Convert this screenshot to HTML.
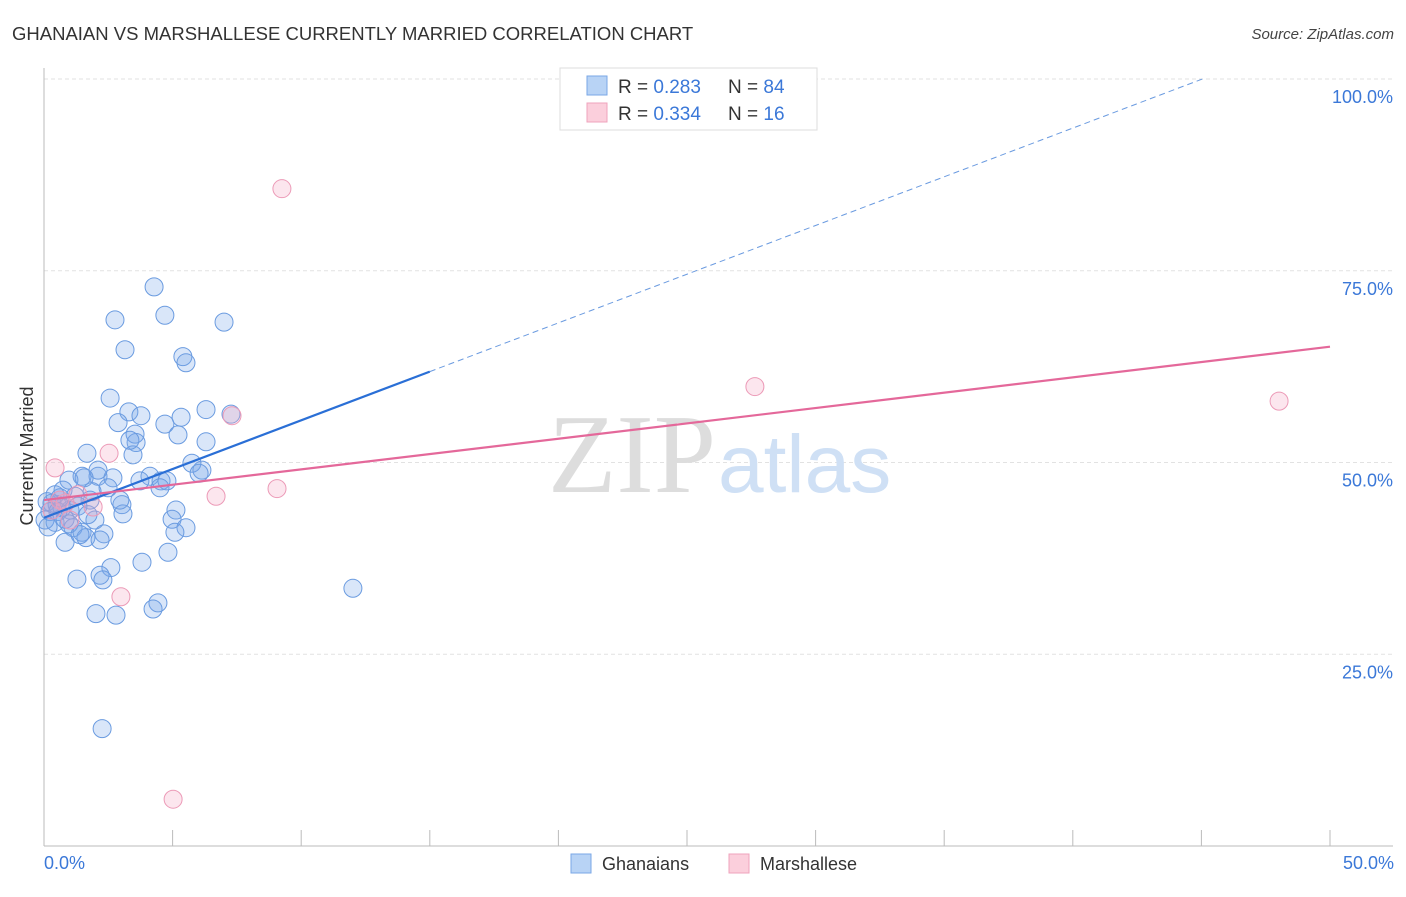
<!DOCTYPE html>
<html><head><meta charset="utf-8"><style>
body{margin:0;background:#fff;font-family:"Liberation Sans",sans-serif;}
</style></head><body>
<svg width="1406" height="892" xmlns="http://www.w3.org/2000/svg">
<text x="12" y="40" font-size="18.5" fill="#333">GHANAIAN VS MARSHALLESE CURRENTLY MARRIED CORRELATION CHART</text>
<text x="1394" y="39" font-size="15" fill="#444" font-style="italic" text-anchor="end">Source: ZipAtlas.com</text>
<g id="grid"></g>
<text x="716" y="492" font-size="112" fill="#ddd" text-anchor="end" font-family="Liberation Serif">ZIP</text>
<text x="718" y="492" font-size="82" fill="#cfe0f5">atlas</text>
<g id="pts"></g>
<g id="lines"></g>
<text x="33" y="456" font-size="18" fill="#333" text-anchor="middle" transform="rotate(-90 33 456)">Currently Married</text>
<text x="44" y="869" font-size="18" fill="#3b78d8">0.0%</text>
<text x="1394" y="869" font-size="18" fill="#3b78d8" text-anchor="end">50.0%</text>
<g>
<rect x="560" y="68" width="257" height="62" fill="#fff" stroke="#ddd"/>
<rect x="587" y="76" width="20" height="19" fill="#b8d3f5" stroke="#7aa7e6"/>
<rect x="587" y="103" width="20" height="19" fill="#fbcfdc" stroke="#efa3bc"/>
<text x="618" y="93" font-size="19" fill="#333">R = <tspan fill="#3b78d8">0.283</tspan><tspan x="728">N = </tspan><tspan fill="#3b78d8">84</tspan></text>
<text x="618" y="120" font-size="19" fill="#333">R = <tspan fill="#3b78d8">0.334</tspan><tspan x="728">N = </tspan><tspan fill="#3b78d8"> 16</tspan></text>
</g>
<g>
<rect x="571" y="854" width="20" height="19" fill="#b8d3f5" stroke="#7aa7e6"/>
<text x="602" y="870" font-size="18" fill="#333">Ghanaians</text>
<rect x="729" y="854" width="20" height="19" fill="#fbcfdc" stroke="#efa3bc"/>
<text x="760" y="870" font-size="18" fill="#333">Marshallese</text>
</g>
</svg>
<script>
const yTicks=[25,50,75,100];
const yTickLabels=["25.0%","50.0%","75.0%","100.0%"];
const xTicks=[5,10,15,20,25,30,35,40,45,50];
const blueX=[4.28,2.76,4.70,7.00,3.15,5.40,5.52,2.57,3.30,3.77,2.88,4.70,5.33,6.30,7.27,3.54,5.21,3.58,3.46,6.30,1.67,5.75,6.14,6.03,4.12,3.73,4.55,4.78,1.48,2.10,2.68,0.97,0.74,2.49,1.21,1.79,3.03,0.12,0.31,0.51,0.70,1.01,0.23,0.54,0.04,0.43,0.82,1.13,1.48,1.98,3.07,5.13,4.98,5.52,5.09,2.33,1.63,0.82,4.82,3.81,2.60,2.18,1.28,2.29,12.01,4.43,4.24,2.02,2.80,2.26,0.16,0.62,1.32,1.71,2.10,4.51,3.34,1.87,1.56,0.97,1.40,0.43,2.18,2.95];
const blueY=[72.9,68.6,69.2,68.3,64.7,63.8,63.0,58.4,56.6,56.1,55.2,55.0,55.9,56.9,56.3,53.7,53.6,52.6,51.0,52.7,51.2,49.9,49.0,48.6,48.2,47.6,47.6,47.6,48.2,48.2,48.0,47.7,46.4,46.7,45.6,45.1,44.5,44.9,44.7,44.5,44.1,43.8,43.6,43.6,42.5,42.2,42.6,41.5,40.9,42.5,43.3,43.8,42.6,41.5,40.9,40.7,40.2,39.6,38.3,37.0,36.3,35.3,34.8,34.7,33.6,31.7,30.9,30.3,30.1,15.3,41.6,45.4,44.3,43.2,49.0,46.7,52.9,46.2,48.0,42.0,40.6,45.8,39.9,45.1];
const pinkX=[9.25,7.31,27.64,48.02,0.43,2.53,6.69,9.06,1.32,1.91,0.82,1.01,0.31,2.99,5.02,0.62];
const pinkY=[85.7,56.1,59.9,58.0,49.3,51.2,45.6,46.6,45.8,44.2,44.7,42.5,43.8,32.5,6.1,45.1];
const blueTrend=[42.8,1.27];
const pinkTrend=[45.1,0.4];
const NS="http://www.w3.org/2000/svg";
const sx=v=>44+v/50*1286;
const sy=v=>846-v/100*767;
function mk(tag,attrs,parent){const e=document.createElementNS(NS,tag);for(const k in attrs)e.setAttribute(k,attrs[k]);parent.appendChild(e);return e;}
const grid=document.getElementById('grid');
yTicks.forEach((t,i)=>{
 const l=mk('line',{x1:44,x2:1393,y1:sy(t),y2:sy(t),stroke:'#e2e2e2','stroke-dasharray':'4,3'},grid);
 
 
 const tx=mk('text',{x:1393,y:sy(t)+24,'font-size':18,fill:'#3b78d8','text-anchor':'end'},grid);
 tx.textContent=yTickLabels[i];
 
 
});
const ax=mk('line',{x1:44,x2:44,y1:68,y2:846,stroke:'#bbb'},grid);


const xa=mk('line',{x1:44,x2:1393,y1:846,y2:846,stroke:'#bbb'},grid);


xTicks.forEach(t=>{
 const l=mk('line',{x1:sx(t),x2:sx(t),y1:830,y2:846,stroke:'#bbb'},grid);
 
 
});
const pts=document.getElementById('pts');
blueX.forEach((x,i)=>{
 const c=mk('circle',{cx:sx(x),cy:sy(blueY[i]),r:9,fill:'rgba(120,165,235,0.28)',stroke:'#6a9be0','stroke-width':1},pts);
 
 
});
pinkX.forEach((x,i)=>{
 const c=mk('circle',{cx:sx(x),cy:sy(pinkY[i]),r:9,fill:'rgba(245,165,195,0.28)',stroke:'#ec9ab7','stroke-width':1},pts);
 
 
});
const lines=document.getElementById('lines');
const bt=x=>blueTrend[0]+blueTrend[1]*x, pt=x=>pinkTrend[0]+pinkTrend[1]*x;
const bxEnd=(100-blueTrend[0])/blueTrend[1];
const b1=mk('line',{x1:sx(0),y1:sy(bt(0)),x2:sx(15),y2:sy(bt(15)),stroke:'#2a6fd6','stroke-width':2.2},lines);


const b2=mk('line',{x1:sx(15),y1:sy(bt(15)),x2:sx(bxEnd),y2:sy(100),stroke:'#6b9be0','stroke-width':1,'stroke-dasharray':'6,4'},lines);


const p1=mk('line',{x1:sx(0),y1:sy(pt(0)),x2:sx(50),y2:sy(pt(50)),stroke:'#e4689a','stroke-width':2.2},lines);


</script>
</body></html>
